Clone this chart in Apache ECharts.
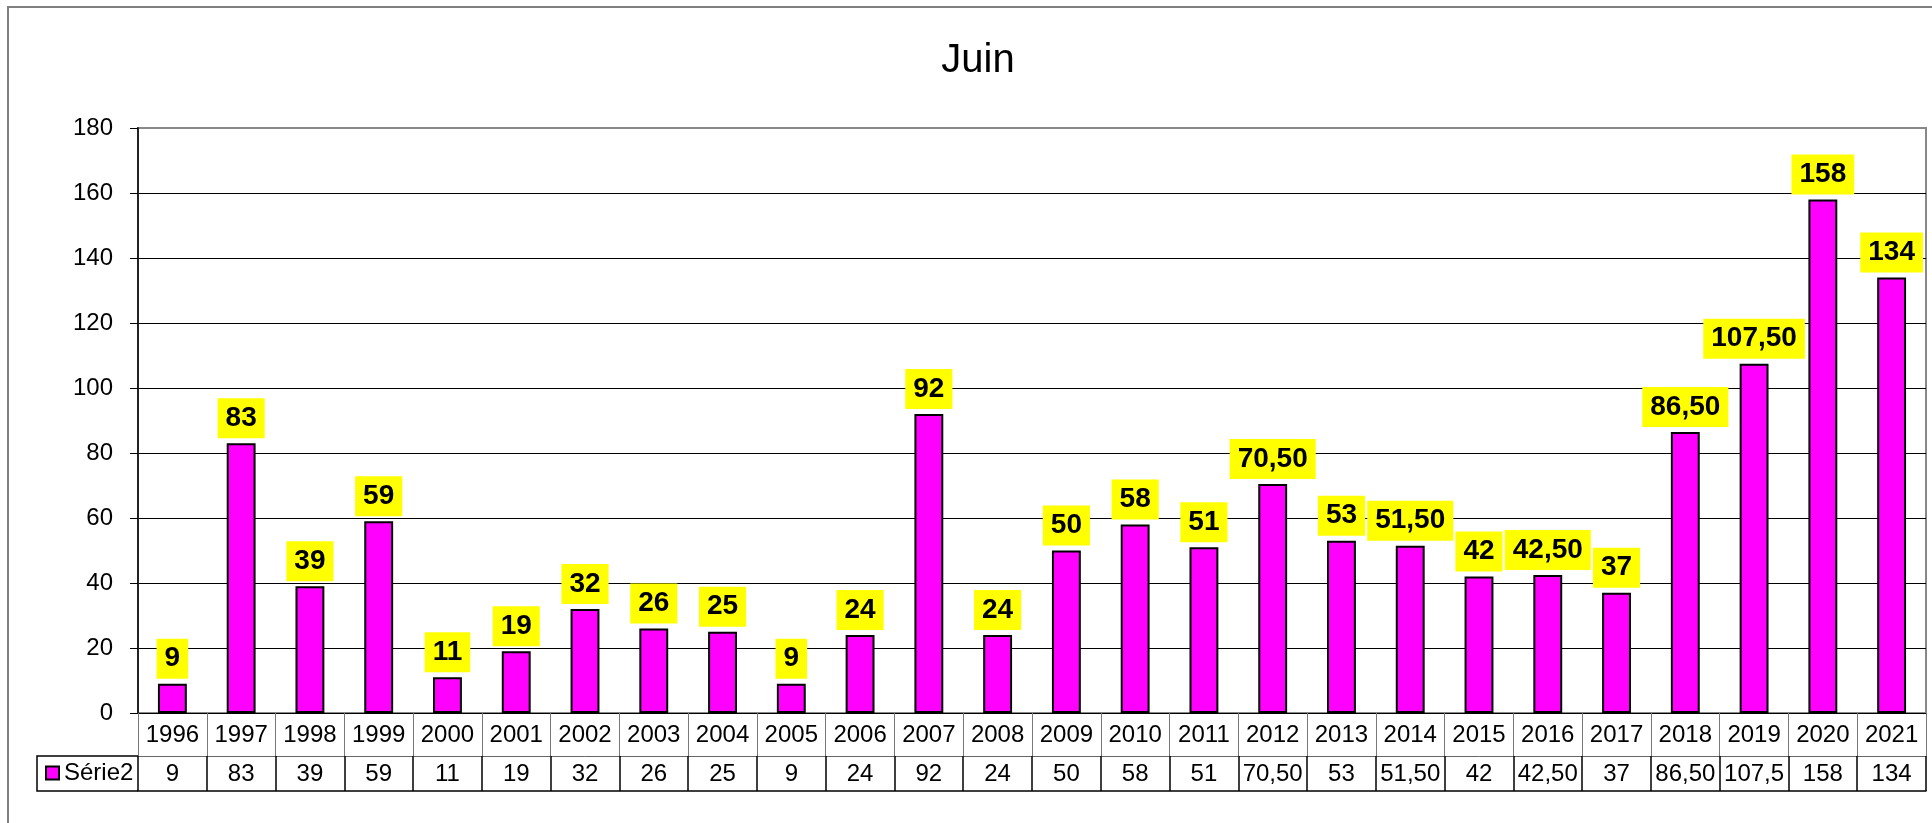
<!DOCTYPE html>
<html>
<head>
<meta charset="utf-8">
<script src="https://cdn.jsdelivr.net/npm/echarts@6/dist/echarts.min.js"></script>
<style>
html,body{margin:0;padding:0;background:#fff;}
#chart{width:1932px;height:823px;}
</style>
</head>
<body>
<div id="chart"></div>
<script>
const years = ['1996','1997','1998','1999','2000','2001','2002','2003','2004','2005','2006','2007','2008','2009','2010','2011','2012','2013','2014','2015','2016','2017','2018','2019','2020','2021'];
const values = [9,83,39,59,11,19,32,26,25,9,24,92,24,50,58,51,70.5,53,51.5,42,42.5,37,86.5,107.5,158,134];
const tableLabels = ['9','83','39','59','11','19','32','26','25','9','24','92','24','50','58','51','70,50','53','51,50','42','42,50','37','86,50','107,5','158','134'];
const seriesName = 'Série2';
const chartTitle = 'Juin';
const yTicks = [0,20,40,60,80,100,120,140,160,180];

const FONT = "'Liberation Sans', Arial, sans-serif";
const chart = echarts.init(document.getElementById('chart'));

function fmt(v){
  return Number.isInteger(v) ? String(v) : v.toFixed(2).replace('.', ',');
}

const splitColors = yTicks.map((t,i)=> i === yTicks.length-1 ? '#888' : '#000');

chart.setOption({
  backgroundColor: '#fff',
  textStyle: {fontFamily: FONT},
  animation: false,
  grid: {
    left: 138, top: 128, right: 6, bottom: 110,
    show: true, borderColor: '#888', borderWidth: 2,
    outerBoundsMode: 'none'
  },
  legend: {
    show: true,
    left: 40, top: 756,
    icon: 'rect',
    itemWidth: 13, itemHeight: 13,
    itemStyle: {color: '#FF00FF', borderColor: '#000', borderWidth: 2},
    textStyle: {fontSize: 24, color: '#000', fontFamily: FONT},
    data: [seriesName]
  },
  xAxis: [
    {
      type: 'category', data: years, position: 'bottom',
      axisLine: {show: true, lineStyle: {color: '#000', width: 1}},
      axisTick: {show: true, length: 43, interval: 0, lineStyle: {color: '#777', width: 1}},
      axisLabel: {show: true, interval: 0, fontSize: 24, color: '#000', margin: 10, fontFamily: FONT},
      splitLine: {show: false}
    },
    {
      type: 'category', data: tableLabels, position: 'bottom', offset: 43,
      axisLine: {show: true, lineStyle: {color: '#666', width: 1}},
      axisTick: {show: true, length: 35, interval: 0, lineStyle: {color: '#000', width: 1.5}},
      axisLabel: {show: true, interval: 0, fontSize: 24, color: '#000', margin: 6, fontFamily: FONT},
      splitLine: {show: false}
    },
    {
      type: 'category', data: years, position: 'bottom', offset: 78,
      axisLine: {show: true, lineStyle: {color: '#000', width: 1.5}},
      axisTick: {show: false},
      axisLabel: {show: false},
      splitLine: {show: false}
    }
  ],
  yAxis: {
    type: 'value', min: 0, max: 180, interval: 20,
    axisLine: {show: true, lineStyle: {color: '#222', width: 2}},
    axisTick: {show: true, length: 8, lineStyle: {color: '#000', width: 1}},
    axisLabel: {fontSize: 24, color: '#000', margin: 25, fontFamily: FONT},
    splitLine: {show: true, lineStyle: {color: splitColors, width: 1}}
  },
  graphic: [
    {
      type: 'rect', silent: true, z: -10,
      shape: {x: 8, y: 7, width: 1980, height: 900},
      style: {fill: 'none', stroke: '#808080', lineWidth: 2}
    },
    {
      type: 'polyline', silent: true,
      shape: {points: [[138,756],[37,756],[37,791],[138,791]]},
      style: {fill: 'none', stroke: '#000', lineWidth: 1.5}
    },
    {
      type: 'text', silent: true,
      x: 978, y: 61,
      style: {text: chartTitle, font: "40px 'Liberation Sans', Arial, sans-serif", fill: '#000', textAlign: 'center', textVerticalAlign: 'middle'}
    }
  ],
  series: [{
    name: seriesName,
    type: 'bar',
    xAxisIndex: 0,
    data: values,
    barWidth: '42%',
    itemStyle: {color: '#FF00FF', borderColor: '#000', borderWidth: 2},
    label: {
      show: true, position: 'top', distance: 5,
      formatter: p => fmt(p.value),
      backgroundColor: '#FFFF00',
      padding: [6, 8, 6, 8],
      fontSize: 28, fontWeight: 'bold', color: '#000', fontFamily: FONT
    }
  }]
});
</script>
</body>
</html>
